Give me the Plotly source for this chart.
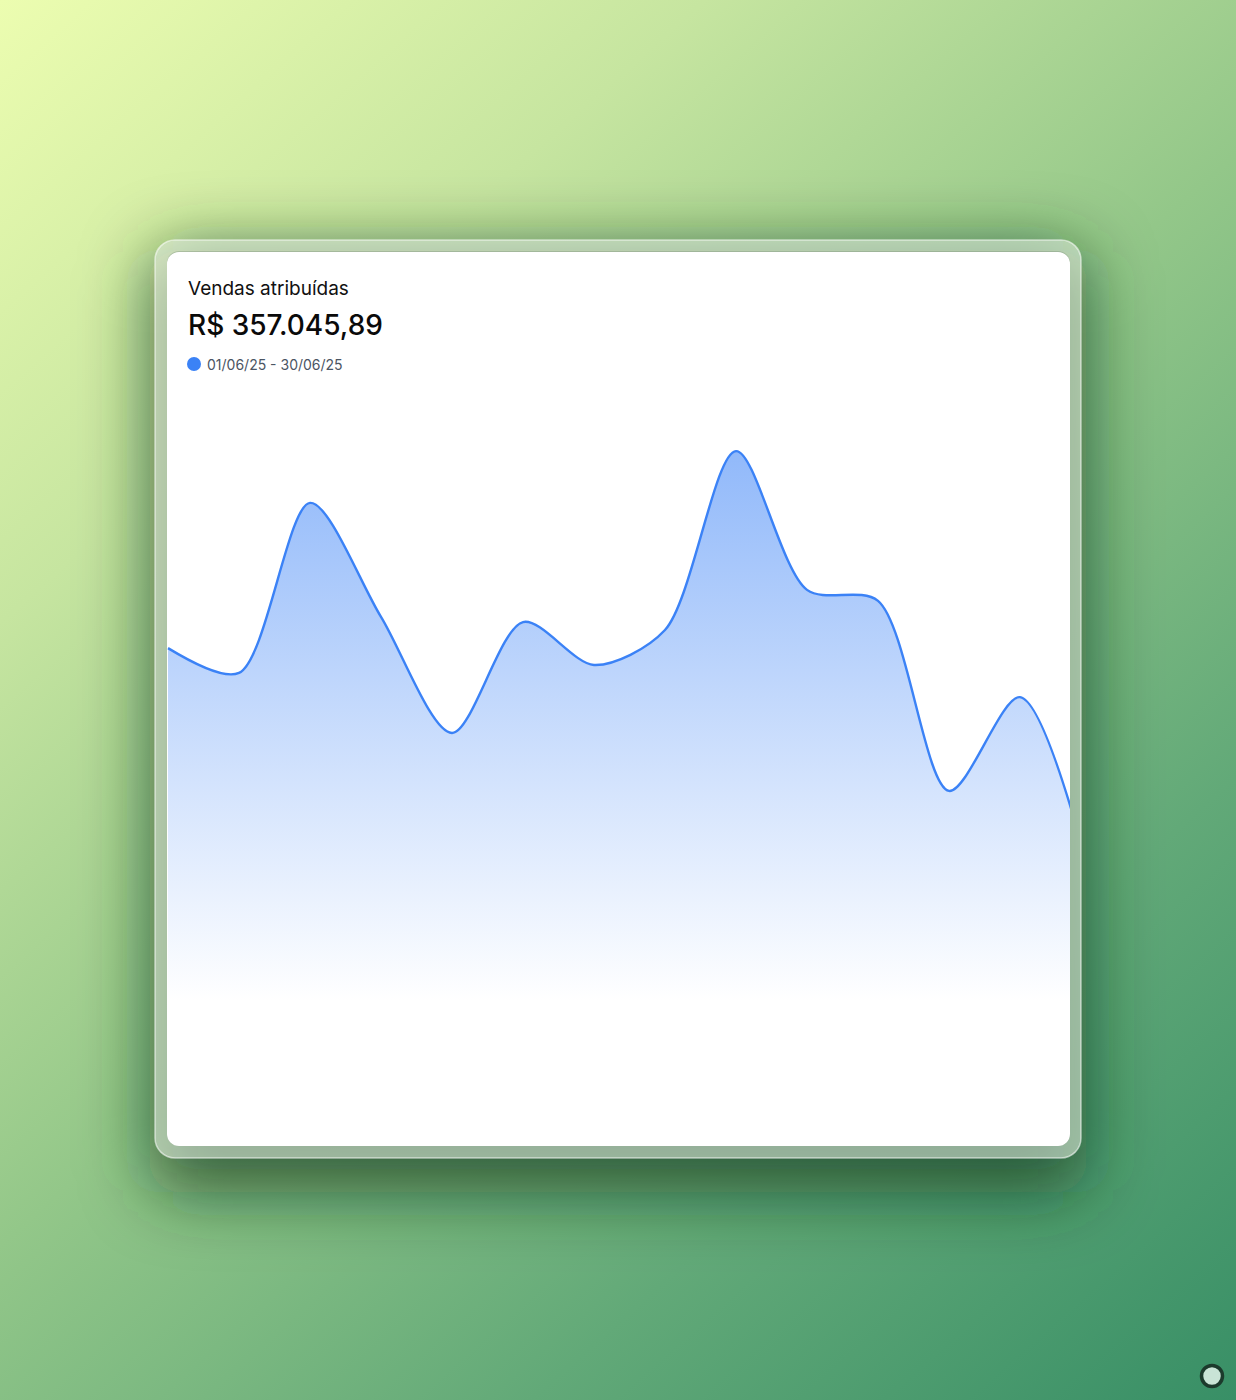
import base64
import plotly.graph_objects as go

W, H = 1236, 1400

# ---- data ----
x_index = list(range(14))
sales = [16250, 15440, 20990, 17270, 13480, 17100, 15700, 16840,
         22680, 18150, 17790, 11590, 14650, 8700]
title_text = "Vendas atribuídas"
total_text = "R$ 357.045,89"
period_text = "01/06/25 - 30/06/25"

line_color = "#3b82f6"


def px(x):
    return x / W


def py(y):
    return 1 - y / H


# ---- background (gradient, shadow, card) ----
svg = f'''<svg xmlns="http://www.w3.org/2000/svg" width="{W}" height="{H}" viewBox="0 0 {W} {H}">
<defs>
<linearGradient id="bg" gradientUnits="userSpaceOnUse" x1="0" y1="0" x2="{W}" y2="{H}">
<stop offset="0" stop-color="#ecfdb0"/>
<stop offset="0.25" stop-color="#c6e5a0"/>
<stop offset="0.5" stop-color="#93c789"/>
<stop offset="0.75" stop-color="#62a978"/>
<stop offset="1" stop-color="#388f66"/>
</linearGradient>
<filter id="sh" x="-50%" y="-50%" width="200%" height="200%">
<feGaussianBlur stdDeviation="34"/>
</filter>
</defs>
<rect x="0" y="0" width="{W}" height="{H}" fill="url(#bg)"/>
<rect x="150" y="250" width="936" height="942" rx="30" fill="rgba(20,55,25,0.7)" filter="url(#sh)"/>
<rect x="155" y="240" width="926" height="918" rx="20" fill="rgba(232,243,228,0.55)" stroke="rgba(255,255,255,0.55)" stroke-width="1.5"/>
<rect x="167" y="251" width="903" height="895" rx="12" fill="rgba(120,140,120,0.35)"/>
<rect x="167" y="252" width="903" height="894" rx="12" fill="#ffffff"/>
<circle cx="1212" cy="1376" r="10.5" fill="#c9e4d6" stroke="#1c3a2c" stroke-width="3.5"/>
</svg>'''
bg_src = "data:image/svg+xml;base64," + base64.b64encode(svg.encode("utf-8")).decode("ascii")

fig = go.Figure()
fig.add_trace(go.Scatter(
    x=x_index, y=sales, mode="lines",
    line=dict(color=line_color, width=2.4, shape="spline", smoothing=0.85),
    fill="tozeroy",
    fillgradient=dict(
        type="vertical",
        start=4700, stop=22680,
        colorscale=[[0, "rgba(59,130,246,0)"], [1, "rgba(59,130,246,0.56)"]],
    ),
    hoverinfo="skip",
))

unit = 71.0
fig.update_layout(
    width=W, height=H,
    margin=dict(l=0, r=0, t=0, b=0),
    paper_bgcolor="rgba(0,0,0,0)",
    plot_bgcolor="rgba(0,0,0,0)",
    showlegend=False,
    hovermode=False,
    font=dict(family="Inter, sans-serif"),
    xaxis=dict(domain=[px(167), px(1070)], range=[-1 / unit, (1070 - 168) / unit],
               visible=False, fixedrange=True),
    yaxis=dict(domain=[py(1146), py(380)], range=[0, 25000],
               visible=False, fixedrange=True),
    images=[dict(source=bg_src, xref="paper", yref="paper", x=0, y=1,
                 sizex=1, sizey=1, xanchor="left", yanchor="top",
                 sizing="stretch", layer="below")],
    shapes=[dict(type="circle", xref="paper", yref="paper",
                 x0=px(187), x1=px(201), y0=py(371), y1=py(357),
                 fillcolor=line_color, line=dict(width=0))],
    annotations=[
        dict(text=title_text, xref="paper", yref="paper", x=px(185.5), y=py(288),
             xanchor="left", yanchor="middle", showarrow=False,
             font=dict(family="Inter", size=19, color="#111111")),
        dict(text=total_text, xref="paper", yref="paper", x=px(185.5), y=py(325),
             xanchor="left", yanchor="middle", showarrow=False,
             font=dict(family="Inter", size=28, color="#0a0a0a", weight=500)),
        dict(text=period_text, xref="paper", yref="paper", x=px(204.5), y=py(364),
             xanchor="left", yanchor="middle", showarrow=False,
             font=dict(family="Inter", size=14, color="#4b5563")),
    ],
)

fig.write_html("out.html", config={"displayModeBar": False})
